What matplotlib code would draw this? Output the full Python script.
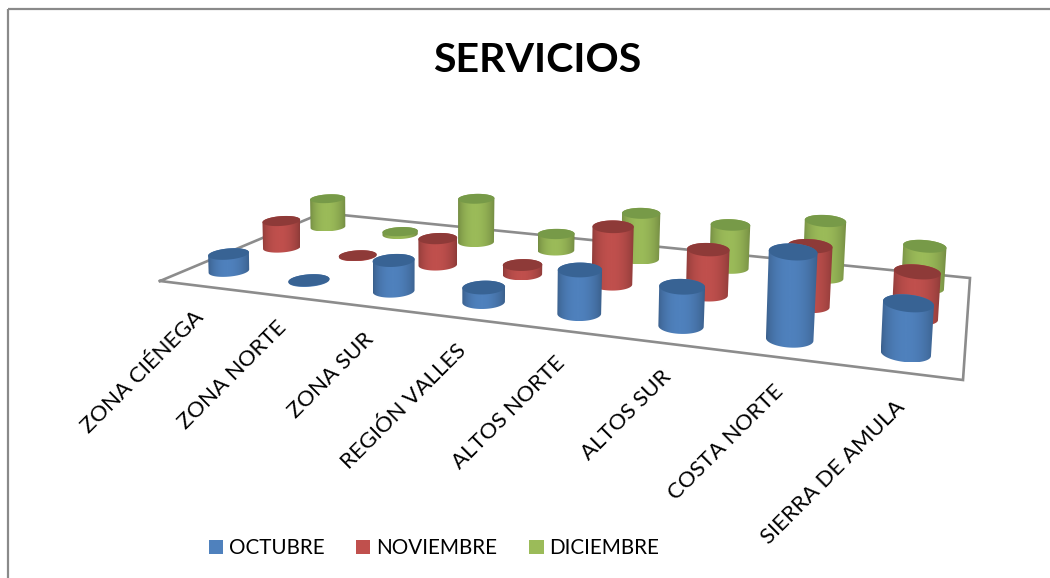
import numpy as np
import matplotlib
matplotlib.use("Agg")
import matplotlib.pyplot as plt
from matplotlib.colors import LinearSegmentedColormap, to_rgb
from matplotlib.patches import Patch, Polygon, Rectangle

categories = ["ZONA CIÉNEGA", "ZONA NORTE", "ZONA SUR", "REGIÓN VALLES",
              "ALTOS NORTE", "ALTOS SUR", "COSTA NORTE", "SIERRA DE AMULA"]
octubre = [16, 0.5, 28, 13, 38, 33, 70, 38]
noviembre = [27, 0.5, 26, 9, 54, 41, 52, 38]
diciembre = [31, 3, 46, 17, 46, 42, 53, 37]
series_names = ["OCTUBRE", "NOVIEMBRE", "DICIEMBRE"]
series_values = [octubre, noviembre, diciembre]
side_colors = ["#4F81BD", "#C0504D", "#9BBB59"]
top_colors = ["#386394", "#8E3A38", "#779A48"]

plt.rcParams["font.family"] = ["Lato", "DejaVu Sans"]
fig = plt.figure(figsize=(10.5, 5.78), dpi=100)
ax = fig.add_axes([0, 0, 1, 1])
ax.set_xlim(0, 1050)
ax.set_ylim(578, 0)
ax.axis("off")

# Chart-area frame
ax.add_patch(Rectangle((8, 8.5), 1200, 700, fill=False, ec="#8a8a8a", lw=1.6, zorder=0))

# Floor outline as seen in the picture
floor_x = [160, 963, 970, 322, 160]
floor_y = [281, 380, 278, 213, 281]
ax.plot(floor_x, floor_y, color="#8c8c8c", lw=1.9, zorder=1, solid_joinstyle="miter")

# Perspective of the category/series grid: grid units -> picture
src = [(1 / 16, 1 / 6), (11 / 16, 1 / 6), (11 / 16, 5 / 6), (1 / 16, 5 / 6)]
dst = [(229, 271), (681, 326), (729, 268), (328, 227)]
A, b = [], []
for (u, v), (x, y) in zip(src, dst):
    A.append([u, v, 1, 0, 0, 0, -u * x, -v * x]); b.append(x)
    A.append([0, 0, 0, u, v, 1, -u * y, -v * y]); b.append(y)
H = np.append(np.linalg.solve(np.array(A, float), np.array(b, float)), 1).reshape(3, 3)


def floor(u, v):
    w = H[2, 0] * u + H[2, 1] * v + H[2, 2]
    return ((H[0, 0] * u + H[0, 1] * v + H[0, 2]) / w,
            (H[1, 0] * u + H[1, 1] * v + H[1, 2]) / w)


def hull(pts):
    p = sorted(map(tuple, pts))
    def half(seq):
        out = []
        for q in seq:
            while len(out) > 1 and ((out[-1][0] - out[-2][0]) * (q[1] - out[-2][1])
                                    - (out[-1][1] - out[-2][1]) * (q[0] - out[-2][0])) <= 0:
                out.pop()
            out.append(q)
        return out[:-1]
    return np.array(half(p) + half(p[::-1]))


RU, RV = 0.026, 0.072
VX = 430
theta = np.linspace(0, 2 * np.pi, 90)
grad = np.linspace(0, 1, 128)
shade = 0.74 + 0.26 * np.sin(np.pi * grad ** 0.9) ** 0.7
grad_img = shade[None, :]


def cylinder(i, j, value, z):
    uc, vc = (i + 0.5) / len(categories), (j + 0.5) / len(series_values)
    bx, by = floor(uc + RU * np.cos(theta), vc + RV * np.sin(theta))
    rx = (bx.max() - bx.min()) / 2
    cx, cy = bx.mean(), by.mean()
    h = value * rx / 19
    grow = 1 + h * 3e-4
    lean = (cx - VX) * h * 1.1e-4
    tx = cx + lean + (bx - cx) * grow
    ty = cy - h + (by - cy) * grow
    outline = hull(np.vstack([np.c_[bx, by], np.c_[tx, ty]]))
    rgb = np.array(to_rgb(side_colors[j]))
    cmap = LinearSegmentedColormap.from_list("s", [rgb * 0.72, rgb * 1.0])
    clip = Polygon(outline, closed=True, transform=ax.transData, fc="none", ec="none")
    ax.add_patch(clip)
    im = ax.imshow(grad_img, cmap=cmap, vmin=0.74, vmax=1.0, aspect="auto", zorder=z,
                   extent=(outline[:, 0].min(), outline[:, 0].max(),
                           outline[:, 1].max(), outline[:, 1].min()),
                   interpolation="bilinear")
    im.set_clip_path(clip)
    ax.add_patch(Polygon(np.c_[tx, ty], closed=True, fc=top_colors[j], ec="none", zorder=z + 0.1))


z = 2
for j in (2, 1, 0):
    for i, value in enumerate(series_values[j]):
        cylinder(i, j, value, z)
        z += 1
ax.set_xlim(0, 1050)
ax.set_ylim(578, 0)

for i, name in enumerate(categories):
    x, y = floor((i + 0.5) / len(categories), 0.0)
    ax.text(x + 1, y + 30, name, rotation=45, rotation_mode="anchor", ha="right", va="center",
            fontsize=16, color="#000000", zorder=200)

ax.text(537, 61, "SERVICIOS", ha="center", va="center", fontsize=29.6, fontweight="bold",
        color="#000000", zorder=200)

handles = [Patch(fc=c, ec="none", label=n) for c, n in zip(side_colors, series_names)]
ax.legend(handles=handles, ncol=3, frameon=False, loc="center", bbox_to_anchor=(434 / 1050, 1 - 548 / 578),
          bbox_transform=fig.transFigure, fontsize=14.9, handlelength=0.68, handleheight=0.68,
          handletextpad=0.29, columnspacing=1.55)

fig.savefig("out.png", dpi=100)
